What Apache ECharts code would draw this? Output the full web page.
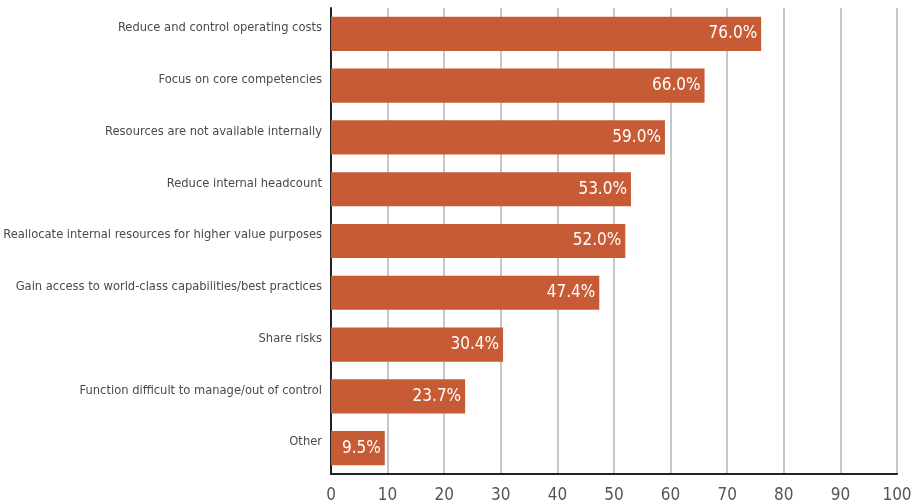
<!DOCTYPE html>
<html>
<head>
<meta charset="utf-8">
<script src="https://cdn.jsdelivr.net/npm/echarts@6/dist/echarts.min.js"></script>
<style>
  html, body { margin: 0; padding: 0; background: #fff; }
  #chart { width: 913px; height: 504px; }
</style>
</head>
<body>
<div id="chart"></div>
<script>
// Reasons for outsourcing, top to bottom
var categories = [
  'Reduce and control operating costs',
  'Focus on core competencies',
  'Resources are not available internally',
  'Reduce internal headcount',
  'Reallocate internal resources for higher value purposes',
  'Gain access to world-class capabilities/best practices',
  'Share risks',
  'Function difficult to manage/out of control',
  'Other'
];
var percentages = [76.0, 66.0, 59.0, 53.0, 52.0, 47.4, 30.4, 23.7, 9.5];
var tickValues = [0, 10, 20, 30, 40, 50, 60, 70, 80, 90, 100];

var FONT = '"Liberation Sans Narrow", "DejaVu Sans Condensed", sans-serif';

var chart = echarts.init(document.getElementById('chart'), null, { renderer: 'canvas' });
chart.setOption({
  animation: false,
  grid: { left: 331, right: 16, top: 8, bottom: 30, containLabel: false, outerBoundsMode: 'none' },
  xAxis: {
    type: 'value',
    min: tickValues[0],
    max: tickValues[tickValues.length - 1],
    interval: 10,
    axisLine: { show: true, lineStyle: { color: '#222', width: 2 } },
    axisTick: { show: false },
    axisLabel: { color: '#555', fontFamily: FONT, fontSize: 17, margin: 13 },
    splitLine: { show: true, lineStyle: { color: '#b4b4b8', width: 1.5 } }
  },
  yAxis: {
    type: 'category',
    inverse: true,
    data: categories,
    axisLine: { show: true, onZero: false, lineStyle: { color: '#222', width: 2 } },
    axisTick: { show: false },
    axisLabel: {
      color: '#4a4a4a',
      fontFamily: FONT,
      fontSize: 12.8,
      margin: 9,
      verticalAlign: 'bottom',
      lineHeight: 12
    }
  },
  series: [{
    type: 'bar',
    data: percentages,
    barCategoryGap: '34%',
    itemStyle: { color: '#c75b35' },
    label: {
      show: true,
      position: 'insideRight',
      offset: [1, 0],
      color: '#fff',
      fontFamily: FONT,
      fontSize: 17,
      formatter: function (p) { return p.value.toFixed(1) + '%'; }
    }
  }]
});
</script>
</body>
</html>
